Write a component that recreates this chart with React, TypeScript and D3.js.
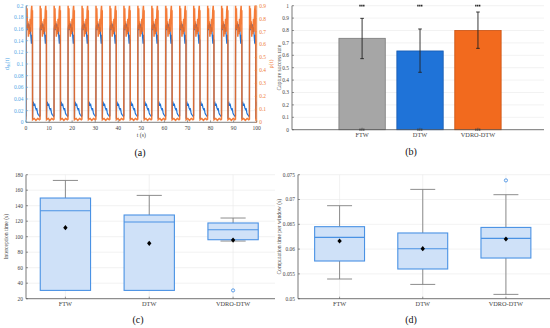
import React from "react";
import * as d3 from "d3";

const W = 550;
const H = 328;
const FONT = "'Liberation Serif', 'DejaVu Serif', 'Times New Roman', serif";

// ---------------- Panel (a) data ----------------
// start times of each low phase
const cycleStarts = [-3.25, 2.8, 8.85, 14.9, 20.95, 27.0, 33.05, 39.1, 45.15, 51.2, 57.25, 63.3, 69.35, 75.4, 81.45, 87.5, 93.55, 99.6];
// one cycle of d_fh(t): offset from cycle start (s) and value
const dCycleOffsets = [0.0, 0.05, 0.15, 0.45, 0.7, 0.95, 1.3, 1.6, 1.9, 2.2, 2.5, 2.8, 3.1, 3.3, 3.35, 3.6, 3.85, 4.1, 4.35, 4.6, 4.85, 5.1, 5.35, 5.6, 5.75, 5.9, 6.0];
const dCycleValues = [0.14, 0.006, 0.03, 0.033, 0.028, 0.032, 0.025, 0.022, 0.023, 0.016, 0.013, 0.012, 0.01, 0.011, 0.16, 0.167, 0.158, 0.17, 0.162, 0.168, 0.155, 0.163, 0.148, 0.135, 0.15, 0.138, 0.142];
// one cycle of rho(t)
const rhoCycleOffsets = [0.0, 0.05, 0.8, 1.5, 2.3, 3.0, 3.3, 3.35, 3.5, 3.7, 3.9, 4.1, 4.3, 4.55, 4.8, 5.05, 5.3, 5.55, 5.75, 5.95, 6.0];
const rhoCycleValues = [0.86, 0.02, 0.03, 0.015, 0.03, 0.02, 0.025, 0.9, 0.82, 0.88, 0.72, 0.78, 0.66, 0.74, 0.68, 0.8, 0.7, 0.86, 0.9, 0.8, 0.86];
const tTicks = [0, 10, 20, 30, 40, 50, 60, 70, 80, 90, 100];
const dTicks = [0, 0.02, 0.04, 0.06, 0.08, 0.1, 0.12, 0.14, 0.16, 0.18, 0.2];
const rhoTicks = [0, 0.1, 0.2, 0.3, 0.4, 0.5, 0.6, 0.7, 0.8, 0.9];

// ---------------- Panel (b) data ----------------
const methods = ["FTW", "DTW", "VDRO-DTW"];
const successRate = [0.737, 0.635, 0.8];
const successErrLow = [0.573, 0.463, 0.656];
const successErrHigh = [0.898, 0.812, 0.949];
const successPoints = [1, 0];
const successTicks = [0, 0.1, 0.2, 0.3, 0.4, 0.5, 0.6, 0.7, 0.8, 0.9, 1];

// ---------------- Panel (c) data ----------------
const timeLower = [30.7, 30.7, 94.4];
const timeQ1 = [30.7, 30.7, 96.1];
const timeMedian = [133.5, 119, 109];
const timeQ3 = [149.9, 128, 117.7];
const timeUpper = [172.6, 153.3, 124.1];
const timeMean = [111.6, 91.4, 95.7];
const timeOutliers = [[], [], [30.7]];
const timeTicks = [20, 40, 60, 80, 100, 120, 140, 160, 180];

// ---------------- Panel (d) data ----------------
const compLower = [0.05397, 0.05288, 0.05087];
const compQ1 = [0.0576, 0.05599, 0.0582];
const compMedian = [0.06236, 0.06008, 0.06216];
const compQ3 = [0.06452, 0.06325, 0.06437];
const compUpper = [0.06875, 0.07204, 0.07097];
const compMean = [0.06163, 0.06008, 0.06204];
const compOutliers = [[], [], [0.07385]];
const compTicks = [0.05, 0.055, 0.06, 0.065, 0.07, 0.075];

const colors = {
  blue: "#1f73d8",
  orange: "#f26a1e",
  gray: "#a6a6a6",
  leftAxis: "#4fa6e6",
  rightAxis: "#f0803a",
  axis: "#555555",
  grid: "#e9e9e9",
  boxFill: "#cfe1f8",
  boxStroke: "#4a92e4",
  whisker: "#808080",
};

function buildSeries(starts: number[], offs: number[], vals: number[]) {
  const out: [number, number][] = [];
  starts.forEach((s) => {
    offs.forEach((o, i) => out.push([s + o, vals[i]]));
  });
  return out;
}

function PanelA() {
  const x = d3.scaleLinear().domain([0, 100]).range([26, 256.7]);
  const yL = d3.scaleLinear().domain([0, 0.2]).range([122.3, 5.7]);
  const yR = d3.scaleLinear().domain([0, 0.9]).range([122.3, 5.7]);
  const dSeries = buildSeries(cycleStarts, dCycleOffsets, dCycleValues);
  const rhoSeries = buildSeries(cycleStarts, rhoCycleOffsets, rhoCycleValues);
  const lineL = d3.line<[number, number]>().x((d) => x(d[0])).y((d) => yL(d[1]));
  const lineR = d3.line<[number, number]>().x((d) => x(d[0])).y((d) => yR(d[1]));
  const fmt = (v: number) => String(+v.toFixed(3));
  return (
    <g>
      <defs>
        <clipPath id="clipA">
          <rect x={x(0)} y={0} width={x(100) - x(0)} height={125} />
        </clipPath>
      </defs>
      {tTicks.map((t) => (
        <line key={"gx" + t} x1={x(t)} x2={x(t)} y1={yL(0.2)} y2={yL(0)} stroke={colors.grid} strokeWidth={0.6} />
      ))}
      {dTicks.map((t) => (
        <line key={"gy" + t} x1={x(0)} x2={x(100)} y1={yL(t)} y2={yL(t)} stroke={colors.grid} strokeWidth={0.6} />
      ))}
      <g clipPath="url(#clipA)">
        <path d={lineL(dSeries) || ""} fill="none" stroke={colors.blue} strokeWidth={1.2} />
        <path d={lineR(rhoSeries) || ""} fill="none" stroke={colors.orange} strokeWidth={1.5} strokeOpacity={0.88} />
      </g>
      <line x1={x(0)} x2={x(0)} y1={yL(0.2)} y2={yL(0)} stroke={colors.leftAxis} strokeWidth={0.8} />
      <line x1={x(100)} x2={x(100)} y1={yL(0.2)} y2={yL(0)} stroke={colors.rightAxis} strokeWidth={0.8} />
      <line x1={x(0)} x2={x(100)} y1={yL(0)} y2={yL(0)} stroke="#666" strokeWidth={0.8} />
      {dTicks.map((t) => (
        <g key={"lt" + t}>
          <line x1={x(0)} x2={x(0) + 2} y1={yL(t)} y2={yL(t)} stroke={colors.leftAxis} strokeWidth={0.6} />
          <text x={x(0) - 2.5} y={yL(t) + 1.9} fontSize={5.4} textAnchor="end" fill={colors.leftAxis}>{fmt(t)}</text>
        </g>
      ))}
      {rhoTicks.map((t) => (
        <g key={"rt" + t}>
          <line x1={x(100) - 2} x2={x(100)} y1={yR(t)} y2={yR(t)} stroke={colors.rightAxis} strokeWidth={0.6} />
          <text x={x(100) + 2.5} y={yR(t) + 1.9} fontSize={5.4} textAnchor="start" fill={colors.rightAxis}>{fmt(t)}</text>
        </g>
      ))}
      {tTicks.map((t) => (
        <g key={"xt" + t}>
          <line x1={x(t)} x2={x(t)} y1={yL(0)} y2={yL(0) - 2} stroke="#666" strokeWidth={0.6} />
          <text x={x(t)} y={yL(0) + 7.5} fontSize={5.6} textAnchor="middle" fill="#444">{t}</text>
        </g>
      ))}
      <text x={(x(0) + x(100)) / 2} y={137} fontSize={5.8} textAnchor="middle" fill="#444">t (s)</text>
      <text transform={`translate(8.5,${yL(0.1)}) rotate(-90)`} fontSize={6.2} textAnchor="middle" fill={colors.leftAxis}>
        d<tspan fontSize={4.4} dy={1.5}>fh</tspan><tspan dy={-1.5}>(t)</tspan>
      </text>
      <text transform={`translate(273,${yR(0.45)}) rotate(-90)`} fontSize={6.2} textAnchor="middle" fill={colors.rightAxis}>ρ(t)</text>
      <text x={140} y={155.5} fontSize={10} textAnchor="middle" fill="#111">(a)</text>
    </g>
  );
}

function PanelB() {
  const x = d3.scaleLinear().domain([-1.21, 3.14]).range([292, 544]);
  const y = d3.scaleLinear().domain([0, 1]).range([129.7, 5.7]);
  const barColors = [colors.gray, colors.blue, colors.orange];
  const barStroke = ["#7a7a7a", "#1659b0", "#c9500f"];
  const bw = 0.8;
  const fmt = (v: number) => String(+v.toFixed(2));
  return (
    <g>
      {successTicks.map((t) => (
        <line key={"g" + t} x1={x(-1.21)} x2={x(3.14)} y1={y(t)} y2={y(t)} stroke={colors.grid} strokeWidth={0.6} />
      ))}
      {methods.map((m, i) => (
        <g key={m}>
          <rect x={x(i - bw / 2)} y={y(successRate[i])} width={x(i + bw / 2) - x(i - bw / 2)} height={y(0) - y(successRate[i])}
            fill={barColors[i]} stroke={barStroke[i]} strokeWidth={0.8} />
          <line x1={x(i)} x2={x(i)} y1={y(successErrLow[i])} y2={y(successErrHigh[i])} stroke="#222" strokeWidth={0.9} />
          <line x1={x(i) - 1.8} x2={x(i) + 1.8} y1={y(successErrLow[i])} y2={y(successErrLow[i])} stroke="#222" strokeWidth={0.9} />
          <line x1={x(i) - 1.8} x2={x(i) + 1.8} y1={y(successErrHigh[i])} y2={y(successErrHigh[i])} stroke="#222" strokeWidth={0.9} />
          {successPoints.map((p) => (
            <line key={p} x1={x(i) - 2.8} x2={x(i) + 2.8} y1={y(p)} y2={y(p)} stroke="#222" strokeWidth={1.8} strokeDasharray="1.4 0.5" />
          ))}
          <text x={x(i)} y={137} fontSize={6.3} textAnchor="middle" fill="#444">{m}</text>
        </g>
      ))}
      <line x1={x(-1.21)} x2={x(-1.21)} y1={y(1)} y2={y(0)} stroke={colors.axis} strokeWidth={0.8} />
      <line x1={x(-1.21)} x2={x(3.14)} y1={y(0)} y2={y(0)} stroke={colors.axis} strokeWidth={0.8} />
      {successTicks.map((t) => (
        <g key={"t" + t}>
          <line x1={x(-1.21)} x2={x(-1.21) + 2} y1={y(t)} y2={y(t)} stroke={colors.axis} strokeWidth={0.6} />
          <text x={x(-1.21) - 3} y={y(t) + 1.9} fontSize={5.4} textAnchor="end" fill="#444">{fmt(t)}</text>
        </g>
      ))}
      {methods.map((m, i) => (
        <line key={"xt" + m} x1={x(i)} x2={x(i)} y1={y(0)} y2={y(0) - 2} stroke={colors.axis} strokeWidth={0.6} />
      ))}
      <text transform={`translate(281,${y(0.5)}) rotate(-90)`} fontSize={5.6} textAnchor="middle" fill="#444">Capture success rate</text>
      <text x={411} y={155} fontSize={10} textAnchor="middle" fill="#111">(b)</text>
    </g>
  );
}

type BoxProps = {
  x0: number; x1: number; yTop: number; yBottom: number;
  xDomain: [number, number]; yDomain: [number, number];
  ticks: number[]; fmt: (v: number) => string;
  lower: number[]; q1: number[]; median: number[]; q3: number[]; upper: number[]; mean: number[]; outliers: number[][];
  ylabel: string; ylabelX: number; tag: string; tagX: number;
};

function BoxPanel(p: BoxProps) {
  const x = d3.scaleLinear().domain(p.xDomain).range([p.x0, p.x1]);
  const y = d3.scaleLinear().domain(p.yDomain).range([p.yBottom, p.yTop]);
  const bw = 0.6;
  return (
    <g>
      {p.ticks.map((t) => (
        <line key={"g" + t} x1={p.x0} x2={p.x1} y1={y(t)} y2={y(t)} stroke={colors.grid} strokeWidth={0.6} />
      ))}
      {methods.map((m, i) => (
        <line key={"gv" + m} x1={x(i)} x2={x(i)} y1={p.yTop} y2={p.yBottom} stroke={colors.grid} strokeWidth={0.6} />
      ))}
      {methods.map((m, i) => {
        const bx0 = x(i - bw / 2);
        const bx1 = x(i + bw / 2);
        const cap = (bx1 - bx0) / 4;
        const my = y(p.mean[i]);
        return (
          <g key={m}>
            <line x1={x(i)} x2={x(i)} y1={y(p.q3[i])} y2={y(p.upper[i])} stroke={colors.whisker} strokeWidth={0.9} />
            <line x1={x(i)} x2={x(i)} y1={y(p.q1[i])} y2={y(p.lower[i])} stroke={colors.whisker} strokeWidth={0.9} />
            <line x1={x(i) - cap} x2={x(i) + cap} y1={y(p.upper[i])} y2={y(p.upper[i])} stroke={colors.whisker} strokeWidth={0.9} />
            {p.lower[i] < p.q1[i] && (
              <line x1={x(i) - cap} x2={x(i) + cap} y1={y(p.lower[i])} y2={y(p.lower[i])} stroke={colors.whisker} strokeWidth={0.9} />
            )}
            <rect x={bx0} y={y(p.q3[i])} width={bx1 - bx0} height={y(p.q1[i]) - y(p.q3[i])}
              fill={colors.boxFill} stroke={colors.boxStroke} strokeWidth={1.1} />
            <line x1={bx0} x2={bx1} y1={y(p.median[i])} y2={y(p.median[i])} stroke={colors.boxStroke} strokeWidth={1.1} />
            <path d={`M${x(i)},${my - 2.6}L${x(i) + 2.2},${my}L${x(i)},${my + 2.6}L${x(i) - 2.2},${my}Z`} fill="#000" />
            {p.outliers[i].map((o, k) => (
              <circle key={k} cx={x(i)} cy={y(o)} r={1.6} fill="none" stroke={colors.boxStroke} strokeWidth={0.9} />
            ))}
            <line x1={x(i)} x2={x(i)} y1={p.yBottom} y2={p.yBottom - 2} stroke={colors.axis} strokeWidth={0.6} />
            <text x={x(i)} y={p.yBottom + 7.3} fontSize={6.3} textAnchor="middle" fill="#444">{m}</text>
          </g>
        );
      })}
      <line x1={p.x0} x2={p.x0} y1={p.yTop} y2={p.yBottom} stroke={colors.axis} strokeWidth={0.8} />
      <line x1={p.x0} x2={p.x1} y1={p.yBottom} y2={p.yBottom} stroke={colors.axis} strokeWidth={0.8} />
      {p.ticks.map((t) => (
        <g key={"t" + t}>
          <line x1={p.x0} x2={p.x0 + 2} y1={y(t)} y2={y(t)} stroke={colors.axis} strokeWidth={0.6} />
          <text x={p.x0 - 3} y={y(t) + 1.9} fontSize={5.4} textAnchor="end" fill="#444">{p.fmt(t)}</text>
        </g>
      ))}
      <text transform={`translate(${p.ylabelX},${(p.yTop + p.yBottom) / 2}) rotate(-90)`} fontSize={5.6} textAnchor="middle" fill="#444">{p.ylabel}</text>
      <text x={p.tagX} y={322.5} fontSize={10} textAnchor="middle" fill="#111">{p.tag}</text>
    </g>
  );
}

export default function App() {
  return (
    <svg width={W} height={H} viewBox={`0 0 ${W} ${H}`} fontFamily={FONT}
      style={{ position: "absolute", left: 0, top: 0, background: "#fff" }}>
      <rect x={0} y={0} width={W} height={H} fill="#fff" />
      <PanelA />
      <PanelB />
      <BoxPanel x0={26} x1={275} yTop={174.7} yBottom={298.7} xDomain={[-0.47, 2.5]} yDomain={[20, 180]}
        ticks={timeTicks} fmt={(v) => String(v)}
        lower={timeLower} q1={timeQ1} median={timeMedian} q3={timeQ3} upper={timeUpper} mean={timeMean} outliers={timeOutliers}
        ylabel="Interception time (s)" ylabelX={8} tag="(c)" tagX={138} />
      <BoxPanel x0={298} x1={550} yTop={174.7} yBottom={298.7} xDomain={[-0.5, 2.53]} yDomain={[0.05, 0.075]}
        ticks={compTicks} fmt={(v) => String(+v.toFixed(3))}
        lower={compLower} q1={compQ1} median={compMedian} q3={compQ3} upper={compUpper} mean={compMean} outliers={compOutliers}
        ylabel="Computation time per window (s)" ylabelX={281} tag="(d)" tagX={411} />
    </svg>
  );
}
